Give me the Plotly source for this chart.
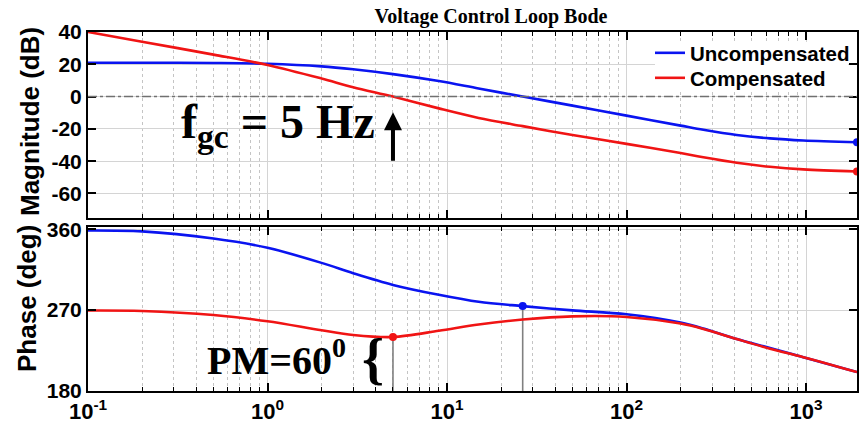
import numpy as np
import plotly.graph_objects as go

# Frequency grid (Hz) and loop-gain readings
freq = [0.1, 0.2, 0.5, 1, 2, 3, 5, 9, 15, 26.4, 50, 100, 200, 268, 411, 630, 966, 1923]

mag_uncomp = [21.0, 21.0, 20.8, 20.3, 18.7, 16.9, 13.9, 9.6, 5.0, 0.0,
              -5.6, -11.8, -18.0, -20.6, -23.8, -25.9, -27.2, -28.3]
mag_comp = [40.0, 34.0, 26.0, 19.6, 11.2, 5.8, 0.0, -7.3, -13.2, -18.3,
            -23.8, -29.3, -35.0, -37.6, -41.0, -43.5, -45.1, -46.4]

phase_uncomp = [358.5, 357.5, 349.6, 339.3, 322.5, 311.0, 298.0, 287.0, 279.2, 274.4,
                269.7, 265.3, 256.1, 249.5, 237.8, 227.8, 217.6, 201.0]
phase_comp = [269.5, 269.0, 264.5, 257.5, 247.5, 242.3, 240.0, 247.0, 254.0, 259.5,
              263.0, 262.3, 255.0, 249.0, 237.8, 227.0, 217.6, 201.0]

# Crossover points
f_gc = 5          # compensated gain crossover (Hz)
pm = 60           # phase margin (deg)
f_gc_unc = 26.4   # uncompensated gain crossover (Hz)
phase_gc_unc = 274.4

x_tickvals = [0.1, 1, 10, 100, 1000]
x_ticktext = ["10<sup>-1</sup>", "10<sup>0</sup>", "10<sup>1</sup>",
              "10<sup>2</sup>", "10<sup>3</sup>"]
mag_ticks = [-60, -40, -20, 0, 20, 40]
phase_ticks = [180, 270, 360]

BLUE = "#0a14f0"
RED = "#f01414"
SANS = "Liberation Sans, Arial, sans-serif"
SERIF = "Liberation Serif, Times New Roman, serif"

minor_vals = [m * 10.0 ** d for d in range(-1, 4) for m in range(2, 10)]

# Layout metrics (pixels)
W, H = 859, 438
ML, MR, MT, MB = 88, 2, 32, 47
PW, PH = W - ML - MR, H - MT - MB


def px_x(px):
    return (px - ML) / PW


def px_y(py):
    return (H - MB - py) / PH


fig = go.Figure()

# Magnitude panel
fig.add_trace(go.Scatter(x=freq, y=mag_uncomp, xaxis="x2", yaxis="y2", mode="lines",
                         name="Uncompensated", legend="legend",
                         line=dict(color=BLUE, width=2.6, shape="spline", smoothing=0.9)))
fig.add_trace(go.Scatter(x=freq, y=mag_comp, xaxis="x2", yaxis="y2", mode="lines",
                         name="Compensated", legend="legend2",
                         line=dict(color=RED, width=2.6, shape="spline", smoothing=0.9)))
fig.add_trace(go.Scatter(x=[freq[-1], freq[-1]], y=[mag_uncomp[-1], mag_comp[-1]],
                         xaxis="x2", yaxis="y2", mode="markers", showlegend=False,
                         marker=dict(color=[BLUE, RED], size=8)))

# Phase panel: crossover drop lines
fig.add_trace(go.Scatter(x=[f_gc, f_gc], y=[180, 180 + pm], mode="lines", showlegend=False,
                         line=dict(color="#808080", width=1.6)))
fig.add_trace(go.Scatter(x=[f_gc_unc, f_gc_unc], y=[180, phase_gc_unc], mode="lines",
                         showlegend=False, line=dict(color="#808080", width=1.6)))
fig.add_trace(go.Scatter(x=freq, y=phase_uncomp, mode="lines", showlegend=False,
                         line=dict(color=BLUE, width=2.6, shape="spline", smoothing=0.9)))
fig.add_trace(go.Scatter(x=freq, y=phase_comp, mode="lines", showlegend=False,
                         line=dict(color=RED, width=2.6, shape="spline", smoothing=0.9)))
fig.add_trace(go.Scatter(x=[f_gc, f_gc_unc], y=[180 + pm, phase_gc_unc], mode="markers",
                         showlegend=False, marker=dict(color=[RED, BLUE], size=8)))

tick_font = dict(family=SANS, size=21, color="black", weight="bold")
common_x = dict(
    type="log", range=[-1, 3.284],
    tickmode="array", tickvals=x_tickvals, ticktext=x_ticktext,
    ticks="inside", ticklen=8, tickwidth=1.5, tickcolor="black",
    showline=True, linecolor="black", linewidth=2, mirror="ticks",
    showgrid=True, gridcolor="#d4d4d4", gridwidth=1,
    minor=dict(tickmode="array", tickvals=minor_vals, ticks="inside", ticklen=4,
               tickwidth=1, tickcolor="black", showgrid=True, gridcolor="#c4c4c4",
               griddash="dot", gridwidth=1),
)
common_y = dict(
    ticks="inside", ticklen=8, tickwidth=1.5, tickcolor="black",
    showline=True, linecolor="black", linewidth=2, mirror="ticks",
    showgrid=True, gridcolor="#d4d4d4", gridwidth=1, zeroline=False,
    tickfont=tick_font, tickmode="array",
)
legend_style = dict(xanchor="left", yanchor="middle", bgcolor="rgba(0,0,0,0)", borderwidth=0,
                    font=dict(family=SANS, size=20.5, color="black", weight="bold"),
                    itemwidth=30)

fig.update_layout(
    width=W, height=H,
    margin=dict(l=ML, r=MR, t=MT, b=MB, autoexpand=False),
    paper_bgcolor="white", plot_bgcolor="white",
    title=dict(text="Voltage Control Loop Bode", xref="container", x=491 / W,
               xanchor="center", y=1 - 16 / H, yanchor="middle",
               font=dict(family=SERIF, size=20, color="black", weight="bold")),
    xaxis=dict(common_x, domain=[0, 1], anchor="y",
               tickfont=dict(family=SANS, size=22, color="black", weight="bold")),
    xaxis2=dict(common_x, domain=[0, 1], anchor="y2", matches="x", showticklabels=False),
    yaxis=dict(common_y, domain=[0, 164 / PH], range=[180, 362.4],
               tickvals=phase_ticks, ticktext=[str(v) for v in phase_ticks]),
    yaxis2=dict(common_y, domain=[1 - 186 / PH, 1], range=[-75.2, 40],
                tickvals=mag_ticks, ticktext=[str(v) for v in mag_ticks]),
    legend=dict(legend_style, x=px_x(650), y=px_y(53)),
    legend2=dict(legend_style, x=px_x(650), y=px_y(78)),
    showlegend=True,
)

# White legend backdrop inside the magnitude panel
fig.add_shape(type="rect", xref="paper", yref="paper",
              x0=px_x(655), x1=px_x(848), y0=px_y(90), y1=px_y(42),
              fillcolor="white", line=dict(width=0), layer="above")

# 0 dB reference line
fig.add_shape(type="line", xref="x2 domain", yref="y2", x0=0, x1=1, y0=0, y1=0,
              line=dict(color="#707070", width=1.5, dash="dashdot"), layer="above")

# Axis titles
fig.add_annotation(text="Magnitude (dB)", xref="paper", yref="paper", x=px_x(30), y=px_y(122),
                   xanchor="center", yanchor="middle", textangle=-90, showarrow=False,
                   font=dict(family=SANS, size=26, color="black", weight="bold"))
fig.add_annotation(text="Phase (deg)", xref="paper", yref="paper", x=px_x(27), y=px_y(299),
                   xanchor="center", yanchor="middle", textangle=-90, showarrow=False,
                   font=dict(family=SANS, size=26, color="black", weight="bold"))

# Gain crossover callout
fig.add_annotation(text="f<sub>gc</sub> = %d Hz" % f_gc, xref="paper", yref="paper",
                   x=px_x(377), y=px_y(125), xanchor="right", yanchor="middle",
                   showarrow=False,
                   font=dict(family=SERIF, size=48, color="black", weight="bold"))
fig.add_annotation(text="", xref="x2", yref="y2", x=np.log10(f_gc), y=-9.7,
                   showarrow=True, ax=0, ay=50, arrowhead=2, arrowsize=0.9,
                   arrowwidth=4, arrowcolor="black")

# Phase margin callout
fig.add_annotation(text="PM=%d<sup>0</sup>" % pm, xref="paper", yref="paper",
                   x=px_x(205), y=px_y(357), xanchor="left", yanchor="middle",
                   showarrow=False,
                   font=dict(family=SERIF, size=40, color="black", weight="bold"))
fig.add_annotation(text="{", xref="paper", yref="paper", x=px_x(373), y=px_y(359),
                   xanchor="center", yanchor="middle", showarrow=False,
                   font=dict(family=SERIF, size=56, color="black", weight="bold"))

fig.write_html("out.html")
